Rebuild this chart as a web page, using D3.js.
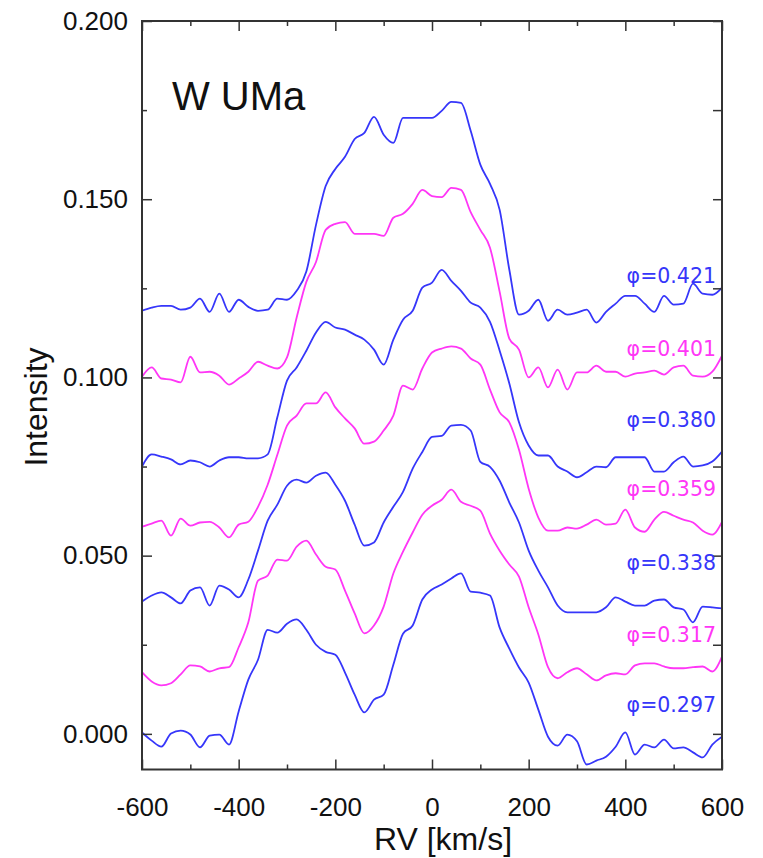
<!DOCTYPE html>
<html><head><meta charset="utf-8">
<script src="https://cdn.jsdelivr.net/npm/d3@7"></script>
<style>body{margin:0;background:#fff}</style>
</head><body>
<svg id="chart" width="763" height="858"></svg>
<script>
// ---- data ----
const rv = [-600,-580,-560,-540,-520,-500,-480,-460,-440,-420,-400,-380,-360,-340,-320,-300,-280,-260,-240,-220,-200,-180,-160,-140,-120,-100,-80,-60,-40,-20,0,20,40,60,80,100,120,140,160,180,200,220,240,260,280,300,320,340,360,380,400,420,440,460,480,500,520,540,560,580,600];

const phi0421 = [0.1187,0.1196,0.1201,0.1201,0.1190,0.1196,0.1221,0.1184,0.1235,0.1184,0.1218,0.1198,0.1187,0.1190,0.1221,0.1218,0.1243,0.1297,0.1428,0.1537,0.1585,0.1619,0.1669,0.1686,0.1731,0.1681,0.1658,0.1728,0.1728,0.1728,0.1728,0.1748,0.1773,0.1770,0.1692,0.1597,0.1543,0.1470,0.1302,0.1176,0.1187,0.1218,0.1159,0.1190,0.1176,0.1182,0.1190,0.1154,0.1184,0.1207,0.1229,0.1229,0.1207,0.1184,0.1229,0.1204,0.1207,0.1263,0.1235,0.1232,0.1252];
const phi0401 = [0.1002,0.1028,0.0997,0.0994,0.0986,0.1058,0.1014,0.1016,0.1005,0.0980,0.0997,0.1016,0.1044,0.1033,0.1025,0.1056,0.1168,0.1268,0.1324,0.1414,0.1431,0.1436,0.1403,0.1403,0.1403,0.1397,0.1448,0.1459,0.1487,0.1526,0.1509,0.1506,0.1532,0.1526,0.1464,0.1414,0.1364,0.1240,0.1109,0.1078,0.1000,0.1028,0.0972,0.1022,0.0966,0.1014,0.1014,0.1033,0.1016,0.1016,0.1002,0.1011,0.1014,0.1019,0.1008,0.1028,0.1033,0.1005,0.1002,0.1016,0.1061];
const phi0380 = [0.0750,0.0784,0.0778,0.0770,0.0756,0.0767,0.0762,0.0750,0.0767,0.0776,0.0776,0.0773,0.0773,0.0784,0.0888,0.0991,0.1028,0.1075,0.1126,0.1156,0.1140,0.1134,0.1120,0.1106,0.1078,0.1036,0.1106,0.1162,0.1187,0.1252,0.1266,0.1302,0.1271,0.1243,0.1210,0.1196,0.1156,0.1075,0.0983,0.0874,0.0809,0.0781,0.0781,0.0750,0.0736,0.0720,0.0734,0.0750,0.0748,0.0776,0.0776,0.0776,0.0776,0.0736,0.0736,0.0762,0.0778,0.0750,0.0753,0.0764,0.0792];
const phi0359 = [0.0581,0.0590,0.0598,0.0556,0.0604,0.0584,0.0593,0.0595,0.0579,0.0551,0.0587,0.0595,0.0637,0.0699,0.0783,0.0865,0.0893,0.0927,0.0927,0.0958,0.0916,0.0885,0.0857,0.0814,0.0820,0.0851,0.0893,0.0977,0.0966,0.1025,0.1070,0.1081,0.1087,0.1081,0.1053,0.1036,0.0966,0.0902,0.0874,0.0797,0.0688,0.0607,0.0570,0.0570,0.0579,0.0576,0.0587,0.0601,0.0587,0.0590,0.0629,0.0579,0.0567,0.0601,0.0623,0.0612,0.0601,0.0593,0.0570,0.0559,0.0595];
const phi0338 = [0.0371,0.0388,0.0397,0.0383,0.0366,0.0402,0.0411,0.0360,0.0416,0.0405,0.0383,0.0433,0.0514,0.0598,0.0643,0.0696,0.0713,0.0705,0.0724,0.0733,0.0699,0.0654,0.0587,0.0528,0.0537,0.0593,0.0637,0.0679,0.0744,0.0791,0.0833,0.0836,0.0865,0.0867,0.0851,0.0763,0.0749,0.0710,0.0649,0.0593,0.0514,0.0458,0.0411,0.0360,0.0341,0.0341,0.0341,0.0341,0.0355,0.0383,0.0371,0.0360,0.0360,0.0374,0.0377,0.0355,0.0349,0.0313,0.0357,0.0355,0.0352];
const phi0317 = [0.0173,0.0147,0.0136,0.0142,0.0167,0.0192,0.0189,0.0175,0.0184,0.0187,0.0243,0.0313,0.0430,0.0444,0.0489,0.0486,0.0525,0.0542,0.0503,0.0469,0.0461,0.0402,0.0338,0.0282,0.0304,0.0357,0.0450,0.0511,0.0565,0.0615,0.0640,0.0657,0.0685,0.0651,0.0640,0.0626,0.0562,0.0514,0.0475,0.0441,0.0355,0.0279,0.0187,0.0156,0.0173,0.0184,0.0167,0.0150,0.0164,0.0170,0.0167,0.0192,0.0198,0.0198,0.0189,0.0184,0.0184,0.0187,0.0189,0.0175,0.0217];
const phi0297 = [0.0004,-0.0019,-0.0036,0.0001,0.0009,-0.0002,-0.0038,-0.0005,-0.0002,-0.0030,0.0063,0.0152,0.0208,0.0292,0.0284,0.0309,0.0321,0.0292,0.0250,0.0230,0.0222,0.0172,0.0110,0.0060,0.0096,0.0110,0.0194,0.0281,0.0304,0.0377,0.0405,0.0419,0.0436,0.0450,0.0399,0.0396,0.0388,0.0298,0.0239,0.0186,0.0144,0.0068,-0.0008,-0.0033,-0.0002,-0.0021,-0.0086,-0.0075,-0.0064,-0.0036,0.0004,-0.0058,-0.0030,-0.0038,-0.0016,-0.0041,-0.0038,-0.0052,-0.0066,-0.0030,-0.0008];

const phaseLabels = ["φ=0.421","φ=0.401","φ=0.380","φ=0.359","φ=0.338","φ=0.317","φ=0.297"];
const labelLevels = [0.1266,0.1061,0.0862,0.0666,0.0461,0.0259,0.0060];
const xMajorTicks = [-600,-400,-200,0,200,400,600];
const xMinorTicks = [-500,-300,-100,100,300,500];
const yMajorTicks = [0,0.05,0.1,0.15,0.2];
const yMinorTicks = [0.025,0.075,0.125,0.175];
const yTickLabels = ["0.000","0.050","0.100","0.150","0.200"];
const titleText = "W UMa";
const xTitle = "RV [km/s]";
const yTitle = "Intensity";

// ---- styling ----
const series = [phi0421,phi0401,phi0380,phi0359,phi0338,phi0317,phi0297];
const BLUE = "#3636fa", MAGENTA = "#ff36f6";
const seriesColors = [BLUE,MAGENTA,BLUE,MAGENTA,BLUE,MAGENTA,BLUE];

const svg = d3.select("#chart");
const L = 142, T = 21, R = 722, B = 769.5;
const x = d3.scaleLinear().domain([-600,600]).range([L,R]);
const y = d3.scaleLinear().domain([-0.01,0.2]).range([B,T]);
const tickFont = "'Liberation Sans', Arial, Helvetica, sans-serif";

svg.append("clipPath").attr("id","clip").append("rect")
  .attr("x",L).attr("y",T).attr("width",R-L).attr("height",B-T);

const line = d3.line().x((d,i)=>x(rv[i])).y(d=>y(d)).curve(d3.curveMonotoneX);
const g = svg.append("g").attr("clip-path","url(#clip)");
series.forEach((s,k)=>{
  g.append("path").datum(s).attr("d",line)
    .attr("fill","none").attr("stroke",seriesColors[k])
    .attr("stroke-width",1.8).attr("stroke-linejoin","round");
});

// axes
const axisColor = "#333";
function styleAxis(sel){
  sel.select(".domain").remove();
  sel.selectAll(".tick line").attr("stroke",axisColor).attr("stroke-width",1.5);
  sel.selectAll("text").attr("font-family",tickFont).attr("font-size",26).attr("fill","#111");
}
svg.append("g").attr("transform",`translate(${L},0)`)
  .call(d3.axisLeft(y).tickValues(yMajorTicks).tickFormat((d,i)=>yTickLabels[i]).tickSize(-10).tickPadding(14))
  .call(styleAxis);
svg.append("g").attr("transform",`translate(${L},0)`)
  .call(d3.axisLeft(y).tickValues(yMinorTicks).tickFormat("").tickSize(-5))
  .call(styleAxis);
svg.append("g").attr("transform",`translate(${R},0)`)
  .call(d3.axisRight(y).tickValues(yMajorTicks.concat(yMinorTicks)).tickFormat("").tickSize(-9))
  .call(styleAxis);
svg.append("g").attr("transform",`translate(0,${B})`)
  .call(d3.axisBottom(x).tickValues(xMajorTicks).tickFormat(d=>String(d)).tickSize(-10).tickPadding(28))
  .call(styleAxis);
svg.append("g").attr("transform",`translate(0,${B})`)
  .call(d3.axisBottom(x).tickValues(xMinorTicks).tickFormat("").tickSize(-5))
  .call(styleAxis);
svg.append("g").attr("transform",`translate(0,${T})`)
  .call(d3.axisTop(x).tickValues(xMajorTicks).tickFormat("").tickSize(-10))
  .call(styleAxis);
svg.append("g").attr("transform",`translate(0,${T})`)
  .call(d3.axisTop(x).tickValues(xMinorTicks).tickFormat("").tickSize(-5))
  .call(styleAxis);

svg.append("rect").attr("x",L).attr("y",T).attr("width",R-L).attr("height",B-T)
  .attr("fill","none").attr("stroke",axisColor).attr("stroke-width",2);

// titles
svg.append("text").attr("x",(L+R)/2+11).attr("y",850).attr("text-anchor","middle")
  .attr("font-family",tickFont).attr("font-size",32).attr("fill","#111").text(xTitle);
svg.append("text").attr("transform",`translate(47,${407}) rotate(-90)`).attr("text-anchor","middle")
  .attr("font-family",tickFont).attr("font-size",32).attr("fill","#111").text(yTitle);
svg.append("text").attr("x",172).attr("y",110)
  .attr("font-family",tickFont).attr("font-size",40).attr("fill","#111").text(titleText);

// phase labels
phaseLabels.forEach((t,k)=>{
  svg.append("text").attr("x",x(600)-6).attr("y",y(labelLevels[k])).attr("text-anchor","end")
    .attr("font-family","'DejaVu Sans', Verdana, sans-serif").attr("font-size",20.5)
    .attr("fill",seriesColors[k]).text(t);
});
</script>
</body></html>
